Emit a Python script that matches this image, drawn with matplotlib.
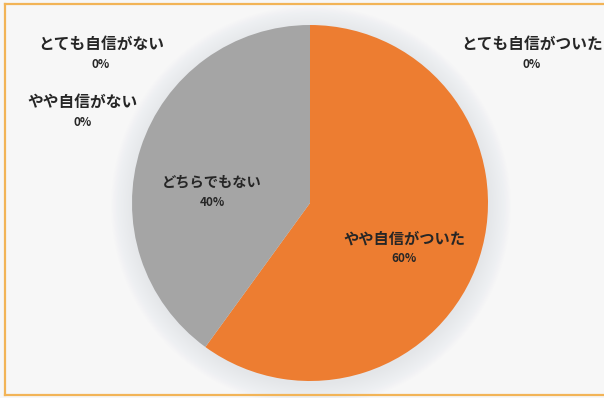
import matplotlib
matplotlib.use("Agg")
import matplotlib.pyplot as plt
from matplotlib.patches import Circle
from matplotlib.lines import Line2D

plt.rcParams['font.family'] = ['Noto Sans CJK JP', 'DejaVu Sans']

categories = ["とても自信がついた", "やや自信がついた", "どちらでもない", "やや自信がない", "とても自信がない"]
values = [0, 60, 40, 0, 0]
colors = ["#5B9BD5", "#ED7D31", "#A5A5A5", "#FFC000", "#4472C4"]

# label positions in pixel coordinates (x, y from top) and font sizes
label_pos = [(532, 44), (404, 239), (212, 183), (83, 102), (101, 44)]
label_size = [11.3, 11, 10.3, 11.3, 11.3]

W, H = 604, 398
fig = plt.figure(figsize=(W / 100, H / 100), dpi=100)
fig.patch.set_facecolor("#f7f7f7")
ax = fig.add_axes([0, 0, 1, 1])
ax.set_facecolor("#f7f7f7")

cx, cy, r = 310, H - 203, 178

# soft shadow
for i in range(14):
    ax.add_patch(Circle((cx + 1, cy - 3), r + 1 + i * 1.6, color="#d2d6de",
                        alpha=0.035, lw=0, zorder=1))

ax.pie(values, colors=colors, startangle=90, counterclock=False,
       center=(cx, cy), radius=r, frame=True,
       wedgeprops=dict(linewidth=0, zorder=2))
ax.set_xlim(0, W)
ax.set_ylim(0, H)
ax.set_aspect("equal")
ax.axis("off")

for cat, v, (px, py), fs in zip(categories, values, label_pos, label_size):
    ax.text(px, H - py, cat, ha="center", va="center", fontsize=fs,
            fontweight="bold", color="#262626", zorder=5)
    ax.text(px, H - py - 20, f"{v}%", ha="center", va="center", fontsize=8.5,
            fontweight="bold", color="#262626", zorder=5)

# orange frame (top, left, bottom)
bc = "#f2b457"
fig.add_artist(Line2D([5 / W, 1], [1 - 3.5 / H, 1 - 3.5 / H], color=bc, lw=1.6, transform=fig.transFigure))
fig.add_artist(Line2D([5 / W, 5 / W], [1 - 3.5 / H, 3 / H], color=bc, lw=1.6, transform=fig.transFigure))
fig.add_artist(Line2D([5 / W, 1], [3 / H, 3 / H], color=bc, lw=1.6, transform=fig.transFigure))

fig.savefig("out.png", dpi=100, facecolor=fig.get_facecolor())
